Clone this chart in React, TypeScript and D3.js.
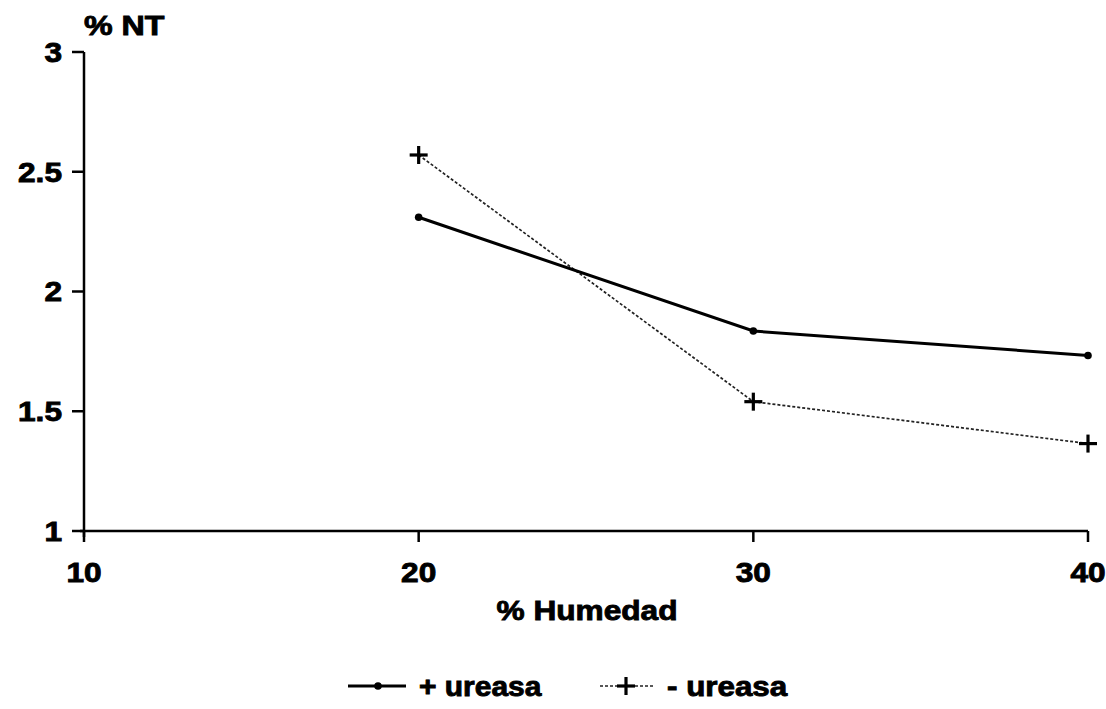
import React from "react";
import * as d3 from "d3";

const humedad = [20, 30, 40];
const conUreasa = [2.31, 1.835, 1.733];
const sinUreasa = [2.57, 1.54, 1.365];
const xTicks = [10, 20, 30, 40];
const yTicks = [1, 1.5, 2, 2.5, 3];
const yTickLabels = ["1", "1.5", "2", "2.5", "3"];
const seriesNames = ["+ ureasa", "- ureasa"];

const W = 1106;
const H = 709;
const FONT = "'Liberation Sans', Arial, Helvetica, sans-serif";

function T(props: {
  x: number;
  y: number;
  anchor?: "start" | "middle" | "end";
  baseline?: string;
  sx?: number;
  children: React.ReactNode;
}) {
  const sx = props.sx ?? 1.13;
  return (
    <g transform={`translate(${props.x},${props.y}) scale(${sx},1)`}>
      <text
        x={0}
        y={0}
        textAnchor={props.anchor ?? "start"}
        dominantBaseline={props.baseline as any}
        fontFamily={FONT}
        fontWeight={700}
        fontSize={28}
        fill="#000"
        stroke="#000"
        strokeWidth={0.9}
      >
        {props.children}
      </text>
    </g>
  );
}

export default function App() {
  const x = d3.scaleLinear().domain([10, 40]).range([84, 1088]);
  const y = d3.scaleLinear().domain([1, 3]).range([531, 52]);
  const line = d3
    .line<number>()
    .x((_, i) => x(humedad[i]))
    .y((d) => y(d));

  const plus = (cx: number, cy: number, s: number, key: string) => (
    <g key={key} stroke="#000" strokeWidth={3.2}>
      <line x1={cx - s} x2={cx + s} y1={cy} y2={cy} />
      <line x1={cx} x2={cx} y1={cy - s} y2={cy + s} />
    </g>
  );

  return (
    <svg
      width={W}
      height={H}
      style={{ position: "absolute", left: 0, top: 0, background: "#fff" }}
    >
      <rect width={W} height={H} fill="#fff" />
      {/* axes */}
      <line x1={x(10)} x2={x(10)} y1={y(3)} y2={y(1) + 6} stroke="#000" strokeWidth={2.5} />
      <line x1={x(10) - 4} x2={x(40)} y1={y(1)} y2={y(1)} stroke="#000" strokeWidth={2.5} />
      {yTicks.map((t, i) => (
        <g key={"yt" + i}>
          <line x1={x(10) - 12} x2={x(10)} y1={y(t)} y2={y(t)} stroke="#000" strokeWidth={2.5} />
          <T x={62} y={y(t)} anchor="end" baseline="central">
            {yTickLabels[i]}
          </T>
        </g>
      ))}
      {xTicks.map((t, i) => (
        <g key={"xt" + i}>
          <line x1={x(t)} x2={x(t)} y1={y(1)} y2={y(1) + 11} stroke="#000" strokeWidth={2.5} />
          <T x={x(t)} y={582} anchor="middle">
            {t}
          </T>
        </g>
      ))}
      <T x={587} y={620} anchor="middle">
        % Humedad
      </T>
      <T x={84} y={35} sx={1.15}>
        % NT
      </T>

      {/* series - ureasa */}
      <path
        d={line(sinUreasa) || ""}
        fill="none"
        stroke="#222"
        strokeWidth={1.7}
        strokeDasharray="3,2"
      />
      {sinUreasa.map((v, i) => plus(x(humedad[i]), y(v), 9, "p" + i))}

      {/* series + ureasa */}
      <path d={line(conUreasa) || ""} fill="none" stroke="#000" strokeWidth={3} />
      {conUreasa.map((v, i) => (
        <circle key={"c" + i} cx={x(humedad[i])} cy={y(v)} r={3.8} fill="#000" />
      ))}

      {/* legend */}
      <line x1={348} x2={406} y1={686} y2={686} stroke="#000" strokeWidth={3} />
      <circle cx={378} cy={686} r={3.8} fill="#000" />
      <T x={419} y={696} sx={1.07}>
        {seriesNames[0]}
      </T>
      <line x1={600} x2={655} y1={686} y2={686} stroke="#222" strokeWidth={1.7} strokeDasharray="3,2" />
      {plus(626, 686, 9, "lp")}
      <T x={667} y={696} sx={1.12}>
        {seriesNames[1]}
      </T>
    </svg>
  );
}
